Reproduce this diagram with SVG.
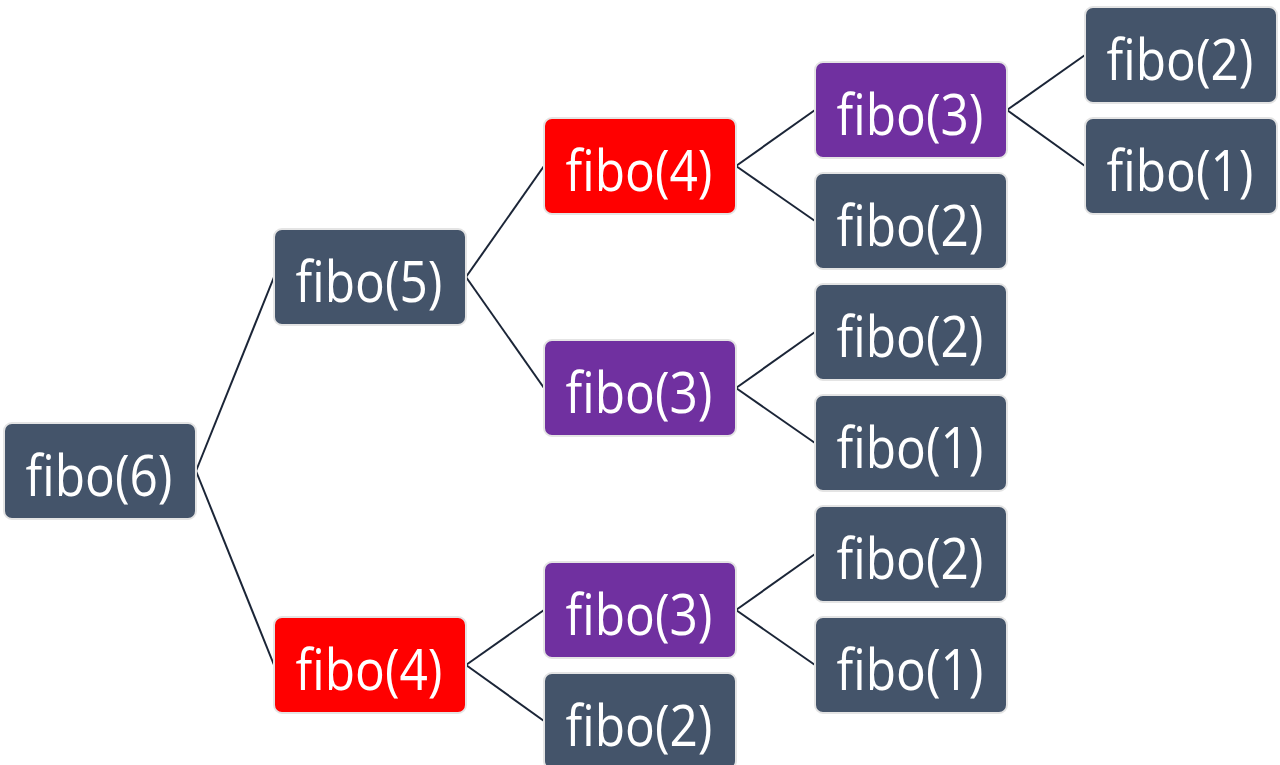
<svg xmlns="http://www.w3.org/2000/svg" width="1280" height="765" viewBox="0 0 1280 765">
<style>
.n rect{stroke:#e4e4e4;stroke-width:2}
.g rect{fill:#44546A}
.r rect{fill:#FF0000}
.p rect{fill:#7030A0}
.n text{font-family:"Open Sans","Noto Sans",sans-serif;font-size:56px;fill:#ffffff;text-anchor:middle}
#edges line{stroke:#1b2537;stroke-width:2}
</style>
<rect width="1280" height="765" fill="#ffffff"/>
<g id="edges">
<line x1="196" y1="471" x2="274" y2="277"/>
<line x1="196" y1="471" x2="274" y2="665"/>
<line x1="466" y1="277" x2="544" y2="166"/>
<line x1="466" y1="277" x2="544" y2="388"/>
<line x1="466" y1="665" x2="544" y2="610"/>
<line x1="466" y1="665" x2="544" y2="721"/>
<line x1="736" y1="166" x2="815" y2="110"/>
<line x1="736" y1="166" x2="815" y2="221"/>
<line x1="736" y1="388" x2="815" y2="332"/>
<line x1="736" y1="388" x2="815" y2="443"/>
<line x1="736" y1="610" x2="815" y2="554"/>
<line x1="736" y1="610" x2="815" y2="665"/>
<line x1="1007" y1="110" x2="1085" y2="55"/>
<line x1="1007" y1="110" x2="1085" y2="166"/>
</g>
<g id="n6" class="n g"><rect x="4" y="423" width="192" height="96" rx="8"/><text x="99" y="496" textLength="147" lengthAdjust="spacingAndGlyphs">fibo(6)</text></g>
<g id="n5" class="n g"><rect x="274" y="229" width="192" height="96" rx="8"/><text x="369" y="302" textLength="147" lengthAdjust="spacingAndGlyphs">fibo(5)</text></g>
<g id="n4b" class="n r"><rect x="274" y="617" width="192" height="96" rx="8"/><text x="369" y="690" textLength="147" lengthAdjust="spacingAndGlyphs">fibo(4)</text></g>
<g id="n4t" class="n r"><rect x="544" y="118" width="192" height="96" rx="8"/><text x="639" y="191" textLength="147" lengthAdjust="spacingAndGlyphs">fibo(4)</text></g>
<g id="n3m" class="n p"><rect x="544" y="340" width="192" height="96" rx="8"/><text x="639" y="413" textLength="147" lengthAdjust="spacingAndGlyphs">fibo(3)</text></g>
<g id="n3b" class="n p"><rect x="544" y="562" width="192" height="96" rx="8"/><text x="639" y="635" textLength="147" lengthAdjust="spacingAndGlyphs">fibo(3)</text></g>
<g id="n2b" class="n g"><rect x="544" y="673" width="192" height="96" rx="8"/><text x="639" y="746" textLength="147" lengthAdjust="spacingAndGlyphs">fibo(2)</text></g>
<g id="n3t" class="n p"><rect x="815" y="62" width="192" height="96" rx="8"/><text x="910" y="135" textLength="147" lengthAdjust="spacingAndGlyphs">fibo(3)</text></g>
<g id="n2a" class="n g"><rect x="815" y="173" width="192" height="96" rx="8"/><text x="910" y="246" textLength="147" lengthAdjust="spacingAndGlyphs">fibo(2)</text></g>
<g id="n2c" class="n g"><rect x="815" y="284" width="192" height="96" rx="8"/><text x="910" y="357" textLength="147" lengthAdjust="spacingAndGlyphs">fibo(2)</text></g>
<g id="n1c" class="n g"><rect x="815" y="395" width="192" height="96" rx="8"/><text x="910" y="468" textLength="147" lengthAdjust="spacingAndGlyphs">fibo(1)</text></g>
<g id="n2d" class="n g"><rect x="815" y="506" width="192" height="96" rx="8"/><text x="910" y="579" textLength="147" lengthAdjust="spacingAndGlyphs">fibo(2)</text></g>
<g id="n1d" class="n g"><rect x="815" y="617" width="192" height="96" rx="8"/><text x="910" y="690" textLength="147" lengthAdjust="spacingAndGlyphs">fibo(1)</text></g>
<g id="n2e" class="n g"><rect x="1085" y="7" width="192" height="96" rx="8"/><text x="1180" y="80" textLength="147" lengthAdjust="spacingAndGlyphs">fibo(2)</text></g>
<g id="n1e" class="n g"><rect x="1085" y="118" width="192" height="96" rx="8"/><text x="1180" y="191" textLength="147" lengthAdjust="spacingAndGlyphs">fibo(1)</text></g>
</svg>
